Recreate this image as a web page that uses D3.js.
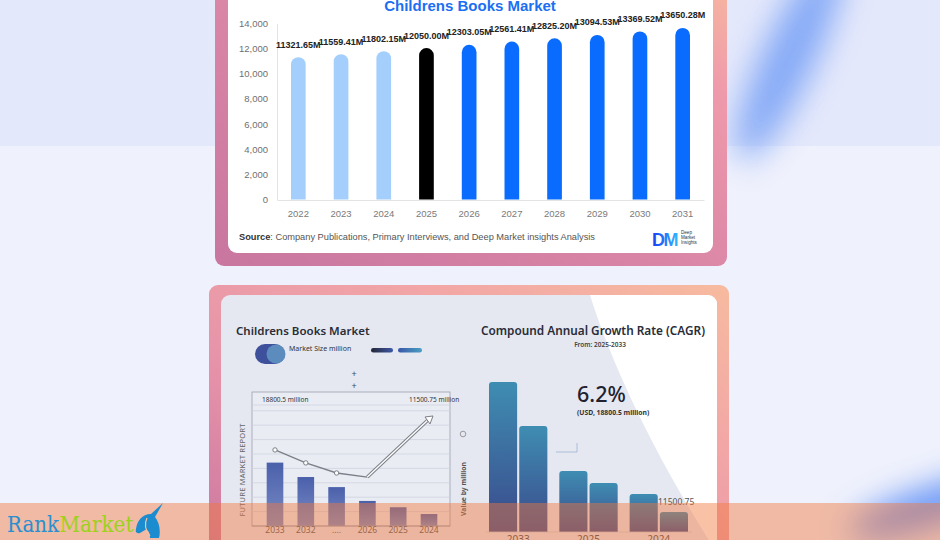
<!DOCTYPE html>
<html>
<head>
<meta charset="utf-8">
<script src="https://cdn.jsdelivr.net/npm/d3@7"></script>
<style>
  html, body { margin: 0; padding: 0; overflow: hidden; background: #eef1fc; }
  svg { display: block; }
</style>
</head>
<body>
<div id="chart"></div>
<script>
// ---- top chart: market size by year (USD million)
const years = ["2022", "2023", "2024", "2025", "2026", "2027", "2028", "2029", "2030", "2031"];
const marketSize = [11321.65, 11559.41, 11802.15, 12050.00, 12303.05, 12561.41, 12825.20, 13094.53, 13369.52, 13650.28];
const yTicks = [0, 2000, 4000, 6000, 8000, 10000, 12000, 14000];
const baseYear = 2025;

// ---- lower left panel (index units)
const sizeYears = ["2033", "2032", "....", "2026", "2025", "2024"];
const sizeBars = [4.4, 3.4, 2.7, 1.74, 1.3, 0.83];
const sizeLine = [5.28, 4.38, 3.68, 3.4, null, 7.43];
const sizeGrid = [1, 2, 3, 4, 5, 6, 7, 8];

// ---- lower right panel
const cagrYears = ["2033", "2025", "2024"];
const cagrBars = [[18800.5, 13290], [7650, 6140], [4760, 2510]];

const W = 940, H = 540;
const svg = d3.select("#chart").append("svg").attr("width", W).attr("height", H);
const defs = svg.append("defs");

function linGrad(id, x1, y1, x2, y2, stops) {
    let g = defs.append("linearGradient").attr("id", id)
        .attr("x1", x1).attr("y1", y1).attr("x2", x2).attr("y2", y2);
    stops.forEach(s => g.append("stop").attr("offset", s[0]).attr("stop-color", s[1]));
}
linGrad("frameTop", 0, 1, 1, 0, [[0, "#c976a0"], [0.45, "#d985a6"], [0.8, "#ef9aab"], [1, "#f6b79f"]]);
linGrad("frameBot", 0, 1, 1, 0, [[0, "#c9769f"], [0.35, "#e592a9"], [0.7, "#f2a6a6"], [1, "#f7bb9f"]]);
linGrad("dmGrad", 0, 0, 1, 0, [[0, "#1b3cf2"], [1, "#2fb6ff"]]);
linGrad("sizeGrad", 0, 0, 0, 1, [[0, "#4a60aa"], [1, "#7a8cc6"]]);
linGrad("cagrGrad", 0, 0, 0, 1, [[0, "#3f8db2"], [1, "#3a4a8c"]]);
linGrad("pillA", 0, 0, 1, 0, [[0, "#262838"], [1, "#3d58a6"]]);
linGrad("pillB", 0, 0, 1, 0, [[0, "#3a57a8"], [1, "#4aa0c2"]]);

defs.append("filter").attr("id", "blur").attr("x", "-100%").attr("y", "-100%")
    .attr("width", "300%").attr("height", "300%")
    .append("feGaussianBlur").attr("stdDeviation", 16);

function roundTop(x0, y0, w, h, r) {
    let b = y0 + h;
    r = Math.min(r, w / 2, h);
    return `M${x0},${b}V${y0 + r}A${r},${r} 0 0 1 ${x0 + r},${y0}H${x0 + w - r}A${r},${r} 0 0 1 ${x0 + w},${y0 + r}V${b}Z`;
}

// ---- page background
svg.append("rect").attr("width", W).attr("height", H).attr("fill", "#eff1fc");
svg.append("rect").attr("width", W).attr("height", 146).attr("fill", "#e4e8fb");
svg.append("ellipse").attr("cx", 790).attr("cy", 55).attr("rx", 26).attr("ry", 115)
    .attr("transform", "rotate(25,790,55)").attr("fill", "#7aa3f6").attr("opacity", 0.9)
    .attr("filter", "url(#blur)");
svg.append("ellipse").attr("cx", 935).attr("cy", 505).attr("rx", 90).attr("ry", 18)
    .attr("transform", "rotate(-18,935,505)").attr("fill", "#5f8ff5").attr("filter", "url(#blur)");

// ---- top card
svg.append("rect").attr("x", 215).attr("y", -20).attr("width", 512).attr("height", 286)
    .attr("rx", 9).attr("fill", "url(#frameTop)");
svg.append("rect").attr("x", 228).attr("y", -20).attr("width", 485).attr("height", 273)
    .attr("rx", 9).attr("fill", "#ffffff");

let topG = svg.append("g");

let x = d3.scaleBand().domain(years).range([277, 704]).paddingInner(0.656).paddingOuter(0.328);
let y = d3.scaleLinear().domain([0, 14000]).range([199.5, 23.5]);

topG.append("text").attr("x", 470).attr("y", 10.5).attr("text-anchor", "middle")
    .attr("font-family", "Liberation Sans, Arial, sans-serif").attr("font-weight", "bold")
    .attr("font-size", 15).attr("fill", "#1a6ff2").text("Childrens Books Market");

let yAxis = topG.append("g").attr("transform", "translate(277,0)")
    .call(d3.axisLeft(y).tickValues(yTicks).tickSize(0).tickPadding(9).tickFormat(d3.format(",")));
yAxis.select(".domain").attr("stroke", "#e3e3e3");
yAxis.selectAll("text").attr("font-family", "Liberation Sans, Arial, sans-serif")
    .attr("font-size", 9.5).attr("fill", "#6f6f6f");

let xAxis = topG.append("g").attr("transform", "translate(0,200)")
    .call(d3.axisBottom(x).tickSize(0).tickPadding(10));
xAxis.select(".domain").attr("stroke", "#e3e3e3");
xAxis.selectAll("text").attr("font-family", "Liberation Sans, Arial, sans-serif")
    .attr("font-size", 9.5).attr("fill", "#7a7a7a");

let barColor = yr => +yr < baseYear ? "#a4cffd" : (+yr === baseYear ? "#000000" : "#0a6cff");

topG.selectAll(".bar").data(years).enter().append("path").attr("class", "bar")
    .attr("d", (d, i) => roundTop(x(d), y(marketSize[i]), x.bandwidth(), y(0) - y(marketSize[i]), x.bandwidth() / 2))
    .attr("fill", d => barColor(d));

topG.selectAll(".lbl").data(years).enter().append("text").attr("class", "lbl")
    .attr("x", d => x(d) + x.bandwidth() / 2)
    .attr("y", (d, i) => y(marketSize[i]) - 9.5)
    .attr("text-anchor", "middle")
    .attr("font-family", "Liberation Sans, Arial, sans-serif").attr("font-weight", "bold")
    .attr("font-size", 9).attr("fill", "#222")
    .text((d, i) => marketSize[i].toFixed(2) + "M");

let src = topG.append("text").attr("x", 239).attr("y", 240)
    .attr("font-family", "Liberation Sans, Arial, sans-serif").attr("font-size", 9)
    .attr("fill", "#555").attr("textLength", 356).attr("lengthAdjust", "spacingAndGlyphs");
src.append("tspan").attr("font-weight", "bold").attr("fill", "#333").text("Source");
src.append("tspan").text(": Company Publications, Primary Interviews, and Deep Market insights Analysis");

topG.append("text").attr("x", 652).attr("y", 245.5).attr("font-family", "Liberation Sans, Arial, sans-serif")
    .attr("font-weight", "bold").attr("font-size", 18).attr("letter-spacing", -1.5)
    .attr("fill", "url(#dmGrad)").text("DM");
["Deep", "Market", "Insights"].forEach((t, i) => {
    topG.append("text").attr("x", 681).attr("y", 233.5 + i * 5)
        .attr("font-family", "Liberation Sans, Arial, sans-serif").attr("font-size", 4.6)
        .attr("fill", "#333").text(t);
});

// ---- lower card
svg.append("rect").attr("x", 209).attr("y", 285).attr("width", 520).attr("height", 280)
    .attr("rx", 9).attr("fill", "url(#frameBot)");
defs.append("clipPath").attr("id", "innerClip").append("rect")
    .attr("x", 221).attr("y", 295).attr("width", 496).attr("height", 270).attr("rx", 9);
let inner = svg.append("g").attr("clip-path", "url(#innerClip)");
inner.append("rect").attr("x", 221).attr("y", 295).attr("width", 496).attr("height", 270).attr("fill", "#e5e8f1");
inner.append("path").attr("d", "M590,295C607,350 645,440 712,545L720,545L720,295Z").attr("fill", "#ffffff");

const nf = "Noto Sans, Open Sans, sans-serif";

// lower left
let ll = svg.append("g");
ll.append("text").attr("x", 236).attr("y", 335).attr("font-family", nf).attr("font-weight", 600)
    .attr("font-size", 11.5).attr("fill", "#2a2c38").text("Childrens Books Market");
ll.append("rect").attr("x", 255).attr("y", 344).attr("width", 30).attr("height", 20).attr("rx", 10).attr("fill", "#3e4f9c");
ll.append("circle").attr("cx", 276).attr("cy", 354).attr("r", 9.5).attr("fill", "#5b8cbd");
ll.append("text").attr("x", 289).attr("y", 351).attr("font-family", nf).attr("font-size", 7)
    .attr("fill", "#333").text("Market Size million");
ll.append("rect").attr("x", 371).attr("y", 348).attr("width", 22).attr("height", 4.5).attr("rx", 2.25).attr("fill", "url(#pillA)");
ll.append("rect").attr("x", 398).attr("y", 348).attr("width", 24).attr("height", 4.5).attr("rx", 2.25).attr("fill", "url(#pillB)");
[377, 389].forEach(py => ll.append("text").attr("x", 354).attr("y", py).attr("text-anchor", "middle")
    .attr("font-family", nf).attr("font-size", 9).attr("fill", "#444").text("+"));

let xs = d3.scaleBand().domain(sizeYears).range([259.6, 444.4]).paddingInner(0.46).paddingOuter(0.23);
let ys = d3.scaleLinear().domain([0, 8.4]).range([526, 405]);

ll.append("rect").attr("x", 252).attr("y", 392).attr("width", 198).attr("height", 134)
    .attr("fill", "rgba(255,255,255,0.18)").attr("stroke", "#9ba0ac").attr("stroke-width", 0.8);
ll.selectAll(".grid").data(sizeGrid.concat([8.4])).enter().append("line").attr("class", "grid")
    .attr("x1", 252).attr("x2", 450).attr("y1", d => ys(d)).attr("y2", d => ys(d))
    .attr("stroke", "#cfd3df").attr("stroke-width", 0.8);
ll.append("text").attr("x", 262).attr("y", 402).attr("font-family", nf).attr("font-size", 6.5)
    .attr("fill", "#333").text("18800.5 million");
ll.append("text").attr("x", 409).attr("y", 402).attr("font-family", nf).attr("font-size", 6.5)
    .attr("fill", "#333").text("11500.75 million");

ll.selectAll(".sbar").data(sizeYears).enter().append("rect").attr("class", "sbar")
    .attr("x", d => xs(d)).attr("width", xs.bandwidth())
    .attr("y", (d, i) => ys(sizeBars[i])).attr("height", (d, i) => ys(0) - ys(sizeBars[i]))
    .attr("fill", "url(#sizeGrad)");

ll.append("line").attr("x1", 252).attr("x2", 450).attr("y1", 526).attr("y2", 526)
    .attr("stroke", "#9ba0ac").attr("stroke-width", 0.8);

ll.selectAll(".sx").data(sizeYears).enter().append("text").attr("class", "sx")
    .attr("x", d => xs(d) + xs.bandwidth() / 2).attr("y", 533).attr("text-anchor", "middle")
    .attr("font-family", nf).attr("font-size", 8.5).attr("fill", "#555").text(d => d);

let pts = sizeYears.map((d, i) => [xs(d) + xs.bandwidth() / 2, sizeLine[i]])
    .filter(p => p[1] !== null).map(p => [p[0], ys(p[1])]);
let line = d3.line();
ll.append("path").attr("d", line(pts.slice(0, pts.length - 1))).attr("fill", "none")
    .attr("stroke", "#7c7f88").attr("stroke-width", 1.3);
let last = pts.slice(pts.length - 2);
ll.append("path").attr("d", line(last)).attr("fill", "none").attr("stroke", "#7c7f88").attr("stroke-width", 3.4);
ll.append("path").attr("d", line(last)).attr("fill", "none").attr("stroke", "#ffffff").attr("stroke-width", 1.4);
let tip = last[1];
ll.append("path").attr("d", `M${tip[0] - 4},${tip[1] - 2}L${tip[0] + 4},${tip[1] - 3}L${tip[0] + 1},${tip[1] + 5}Z`)
    .attr("fill", "#ffffff").attr("stroke", "#7c7f88").attr("stroke-width", 1);
ll.selectAll(".pt").data(pts.slice(0, pts.length - 2)).enter().append("circle").attr("class", "pt")
    .attr("cx", d => d[0]).attr("cy", d => d[1]).attr("r", 2.2)
    .attr("fill", "#ffffff").attr("stroke", "#7c7f88").attr("stroke-width", 1);

ll.append("text").attr("transform", "translate(245,470) rotate(-90)").attr("text-anchor", "middle")
    .attr("font-family", nf).attr("font-size", 7.5).attr("fill", "#666").attr("letter-spacing", 0.2)
    .text("FUTURE MARKET REPORT");
ll.append("text").attr("transform", "translate(465.5,489) rotate(-90)").attr("text-anchor", "middle")
    .attr("font-family", nf).attr("font-weight", 700).attr("font-size", 6.8).attr("fill", "#555")
    .text("Value by million");
ll.append("circle").attr("cx", 463).attr("cy", 434).attr("r", 2.8).attr("fill", "none")
    .attr("stroke", "#888").attr("stroke-width", 0.8);

// lower right
let lr = svg.append("g");
lr.append("text").attr("x", 593).attr("y", 335).attr("text-anchor", "middle").attr("font-family", nf)
    .attr("font-weight", 600).attr("font-size", 11.8).attr("fill", "#2a2c38")
    .text("Compound Annual Growth Rate (CAGR)");
lr.append("text").attr("x", 600).attr("y", 347).attr("text-anchor", "middle").attr("font-family", nf)
    .attr("font-weight", 600).attr("font-size", 6.5).attr("fill", "#444").text("From: 2025-2033");
lr.append("text").attr("x", 577).attr("y", 402).attr("font-family", nf).attr("font-weight", 500)
    .attr("font-size", 21.5).attr("fill", "#1f2230").text("6.2%");
lr.append("text").attr("x", 577).attr("y", 415).attr("font-family", nf).attr("font-weight", 700)
    .attr("font-size", 6.8).attr("fill", "#333").text("(USD, 18800.5 million)");
lr.append("path").attr("d", "M556,452H577V443").attr("fill", "none").attr("stroke", "#9fb3d6").attr("stroke-width", 0.8);

let xg = d3.scaleBand().domain(cagrYears).range([489, 688]).paddingInner(0.17);
let xi = d3.scaleBand().domain([0, 1]).range([0, xg.bandwidth()]).paddingInner(0.07);
let yc = d3.scaleLinear().domain([0, 18800.5]).range([532, 382]);

cagrYears.forEach((g, gi) => {
    lr.selectAll(".cb" + gi).data(cagrBars[gi]).enter().append("path")
        .attr("d", (v, j) => roundTop(xg(g) + xi(j), yc(v), xi.bandwidth(), yc(0) - yc(v), 3))
        .attr("fill", "url(#cagrGrad)");
});
lr.append("line").attr("x1", 486).attr("x2", 692).attr("y1", 532).attr("y2", 532)
    .attr("stroke", "#c9cfdc").attr("stroke-width", 0.8);
lr.append("text").attr("x", 658).attr("y", 505).attr("font-family", nf).attr("font-size", 8.5)
    .attr("fill", "#555").text("11500.75");
lr.selectAll(".cx").data(cagrYears).enter().append("text").attr("class", "cx")
    .attr("x", d => xg(d) + xg.bandwidth() / 2).attr("y", 542.5).attr("text-anchor", "middle")
    .attr("font-family", nf).attr("font-size", 10).attr("fill", "#444").text(d => d);

// ---- bottom banner
svg.append("rect").attr("x", 0).attr("y", 503).attr("width", W).attr("height", 37)
    .attr("fill", "rgba(242,120,60,0.45)");

let logo = svg.append("g");
logo.append("text").attr("x", 7).attr("y", 531.5).attr("font-family", "DejaVu Serif, serif")
    .attr("font-size", 22).attr("fill", "#2a8fd0").attr("textLength", 52)
    .attr("lengthAdjust", "spacingAndGlyphs").text("Rank");
logo.append("text").attr("x", 59.5).attr("y", 531.5).attr("font-family", "DejaVu Serif, serif")
    .attr("font-size", 22).attr("fill", "#9bd21e").attr("textLength", 74)
    .attr("lengthAdjust", "spacingAndGlyphs").text("Market");
logo.append("path")
    .attr("d", "M151,514L163,503L155,517C159,522 161,530 159,538L150,538C150,533 148,529 145,530L140,533C137,534 135,532 136,529C137,521 142,514 151,514Z")
    .attr("fill", "#1b8ccf");
logo.append("path").attr("d", "M147,518C144,524 146,531 150,536").attr("fill", "none")
    .attr("stroke", "#f6c3a6").attr("stroke-width", 1.2);
</script>
</body>
</html>
